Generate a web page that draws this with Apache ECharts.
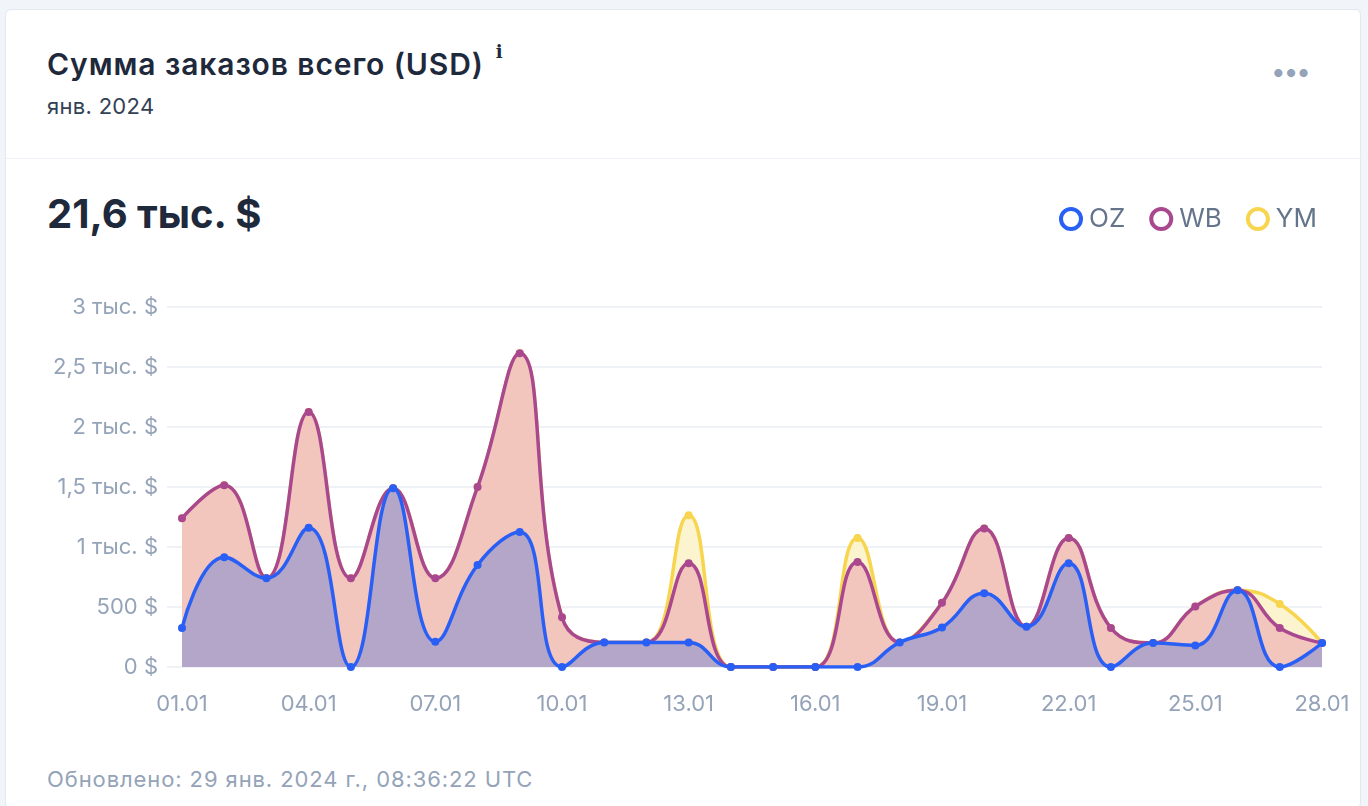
<!DOCTYPE html>
<html>
<head>
<meta charset="utf-8">
<script src="https://cdn.jsdelivr.net/npm/echarts@6/dist/echarts.min.js"></script>
<style>
    html, body { margin: 0; padding: 0; width: 1368px; height: 806px; overflow: hidden; background: #f1f5f9; font-family: Inter, "Noto Sans", sans-serif; }
    .card { position: absolute; left: 5px; top: 9px; width: 1356px; height: 800px; background: #fff; border: 1px solid #e2e8f0; border-radius: 6px; box-sizing: border-box; }
    .divider { position: absolute; left: 6px; top: 158px; width: 1355px; height: 1px; background: #eef2f6; }
    .title { position: absolute; left: 47px; top: 46px; font-size: 30px; font-weight: 600; color: #1e293b; white-space: nowrap; letter-spacing: 0.9px; }
    .title sup { font-size: 18px; font-weight: 800; font-family: "DejaVu Serif", serif; position: relative; top: -6px; margin-left: 12px; }
    .sub { position: absolute; left: 47px; top: 93px; font-size: 22px; color: #334155; letter-spacing: 0.3px; }
    .dots { position: absolute; left: 1271px; top: 56px; font-size: 26px; color: #94a3b8; letter-spacing: -2px; }
    .total { position: absolute; left: 47px; top: 189px; font-size: 40px; font-weight: 700; color: #1e293b; }
    .foot { position: absolute; left: 47px; top: 766px; font-size: 22px; color: #94a3b8; letter-spacing: 0.9px; }
    #chart { position: absolute; left: 0; top: 0; width: 1368px; height: 806px; }
</style>
</head>
<body>
<div class="card"></div>
<div class="divider"></div>
<div class="title">Сумма заказов всего (USD)<sup>i</sup></div>
<div class="sub">янв. 2024</div>
<div class="dots">•••</div>
<div class="total">21,6 тыс. $</div>
<div class="foot">Обновлено: 29 янв. 2024 г., 08:36:22 UTC</div>
<div id="chart"></div>
<script>
    // days of January 2024
    var days = ['01.01', '02.01', '03.01', '04.01', '05.01', '06.01', '07.01', '08.01', '09.01', '10.01',
        '11.01', '12.01', '13.01', '14.01', '15.01', '16.01', '17.01', '18.01', '19.01', '20.01',
        '21.01', '22.01', '23.01', '24.01', '25.01', '26.01', '27.01', '28.01'];

    // stacked series values, USD
    var ozData = [325, 915, 740, 1160, 0, 1490, 210, 850, 1125, 0, 205, 205, 205, 0, 0, 0, 0, 205, 330, 615, 335, 865, 0, 200, 180, 640, 0, 200];
    var wbData = [915, 600, 0, 965, 740, 0, 530, 650, 1490, 415, 0, 0, 660, 0, 0, 0, 875, 0, 205, 540, 0, 210, 325, 0, 325, 0, 325, 0];
    var ymData = [0, 0, 0, 0, 0, 0, 0, 0, 0, 0, 0, 0, 400, 0, 0, 0, 200, 0, 0, 0, 0, 0, 0, 0, 0, 0, 200, 0];

    var seriesNames = ['OZ', 'WB', 'YM'];
    var lineColors = ['#2a5ff5', '#a9488f', '#f8d54e'];
    var fillColors = ['#b3a6c8', '#f2c5bd', '#fcf3cf'];

    var chart = echarts.init(document.getElementById('chart'));

    const fmtUsd = (v) => {
        if (v === 0) return '0 $';
        if (v < 1000) return v + ' $';
        return String(v / 1000).replace('.', ',') + ' тыс. $';
    };

    const makeSeries = (idx, data, z) => ({
        name: seriesNames[idx],
        type: 'line',
        stack: 'total',
        xAxisIndex: 1,
        yAxisIndex: 1,
        smooth: 0.45,
        z: z,
        symbol: 'circle',
        symbolSize: 8,
        showSymbol: true,
        lineStyle: { color: lineColors[idx], width: 3.5 },
        itemStyle: { color: lineColors[idx] },
        areaStyle: { color: fillColors[idx], opacity: 1 },
        data: data
    });

    var option = {
        animation: false,
        textStyle: { fontFamily: 'Inter, "Noto Sans", sans-serif' },
        legend: {
            right: 46,
            top: 201,
            itemWidth: 20,
            itemHeight: 20,
            itemGap: 24,
            icon: 'circle',
            textStyle: { fontSize: 26, color: '#64748b', padding: [0, 0, 0, 3] },
            data: seriesNames.map((n, i) => ({
                name: n,
                itemStyle: { color: '#fff', borderColor: lineColors[i], borderWidth: 4 }
            }))
        },
        grid: [
            { left: 167, right: 46, top: 307, bottom: 139 },
            { left: 182, right: 46, top: 307, bottom: 139 }
        ],
        xAxis: [
            { type: 'category', gridIndex: 0, data: days, show: false },
            {
                type: 'category',
                gridIndex: 1,
                data: days,
                boundaryGap: false,
                axisLine: { show: false },
                axisTick: { show: false },
                axisLabel: { interval: 2, margin: 26, fontSize: 22, color: '#94a3b8' }
            }
        ],
        yAxis: [
            {
                type: 'value',
                gridIndex: 0,
                min: 0,
                max: 3000,
                interval: 500,
                axisLine: { show: false },
                axisTick: { show: false },
                axisLabel: { margin: 9, fontSize: 22, color: '#94a3b8', formatter: fmtUsd },
                splitLine: { lineStyle: { color: '#eef2f7', width: 2 } }
            },
            { type: 'value', gridIndex: 1, min: 0, max: 3000, interval: 500, show: false }
        ],
        series: [
            makeSeries(0, ozData, 5),
            makeSeries(1, wbData, 4),
            makeSeries(2, ymData, 3)
        ]
    };

    chart.setOption(option);
</script>
</body>
</html>
